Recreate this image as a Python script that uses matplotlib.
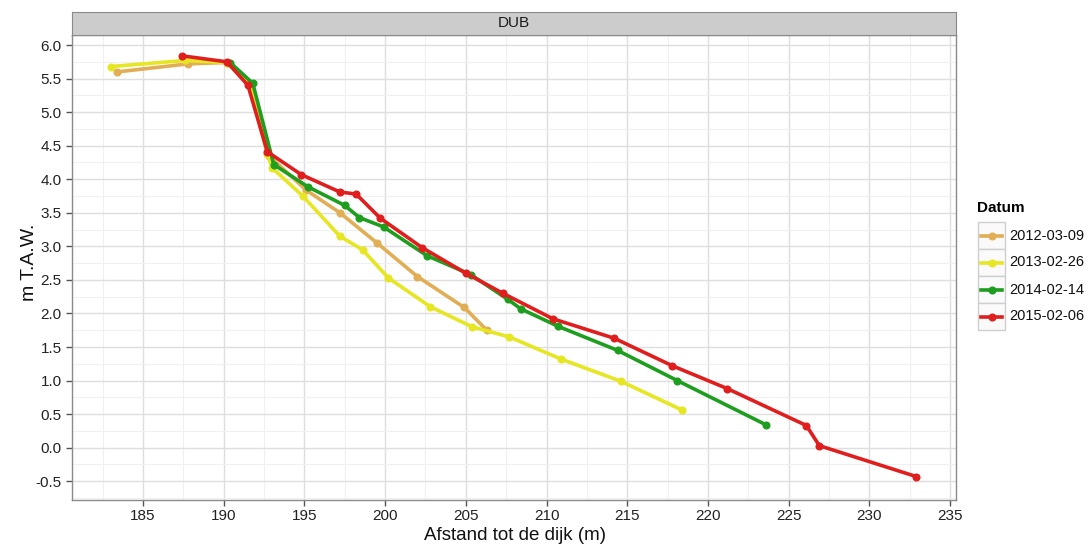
import matplotlib
matplotlib.use('Agg')
import matplotlib.pyplot as plt
from matplotlib.patches import Rectangle
from matplotlib.ticker import MultipleLocator

plt.rcParams['font.family'] = ['Liberation Sans', 'DejaVu Sans']

# data
dates = ['2012-03-09', '2013-02-26', '2014-02-14', '2015-02-06']
colors = ['#E2AE55', '#E6E622', '#1E9E1E', '#E01E1E']

x_2012 = [183.4, 187.8, 190.2, 191.6, 192.8, 195.1, 197.2, 199.5, 202.0, 204.9, 206.3]
y_2012 = [5.60, 5.72, 5.74, 5.40, 4.35, 3.84, 3.50, 3.05, 2.55, 2.09, 1.75]

x_2013 = [183.0, 187.6, 190.2, 191.6, 192.7, 193.0, 194.9, 197.2, 198.6, 200.2, 202.8,
          205.4, 207.7, 210.9, 214.6, 218.4]
y_2013 = [5.68, 5.77, 5.74, 5.40, 4.38, 4.17, 3.75, 3.15, 2.95, 2.53, 2.10,
          1.80, 1.65, 1.32, 0.99, 0.56]

x_2014 = [190.4, 191.8, 193.1, 195.2, 197.5, 198.4, 199.9, 202.6, 205.3, 207.6,
          208.4, 210.7, 214.4, 218.1, 223.6]
y_2014 = [5.74, 5.43, 4.22, 3.89, 3.61, 3.43, 3.29, 2.86, 2.58, 2.21,
          2.07, 1.81, 1.45, 1.00, 0.34]

x_2015 = [187.4, 190.2, 191.5, 192.7, 194.8, 197.2, 198.2, 199.7, 202.3, 205.0,
          207.3, 210.4, 214.2, 217.8, 221.2, 226.1, 226.9, 232.9]
y_2015 = [5.84, 5.75, 5.40, 4.41, 4.07, 3.81, 3.78, 3.42, 2.98, 2.60,
          2.30, 1.92, 1.63, 1.22, 0.88, 0.33, 0.03, -0.43]

xs = [x_2012, x_2013, x_2014, x_2015]
ys = [y_2012, y_2013, y_2014, y_2015]

W, H = 1089, 544
fig = plt.figure(figsize=(W / 100, H / 100), dpi=100)

# panel position in pixels
L, R, T, B = 72, 956, 35, 500
ax = fig.add_axes([L / W, 1 - B / H, (R - L) / W, (B - T) / H])

for x, y, c, lab in zip(xs, ys, colors, dates):
    ax.plot(x, y, color=c, lw=2.6, marker='o', ms=4.8, label=lab,
            solid_joinstyle='round', solid_capstyle='round')

ax.set_xlim(180.6, 235.37)
ax.set_ylim(-0.78, 6.15)
ax.xaxis.set_major_locator(MultipleLocator(5))
ax.xaxis.set_minor_locator(MultipleLocator(2.5))
ax.yaxis.set_major_locator(MultipleLocator(0.5))
ax.yaxis.set_minor_locator(MultipleLocator(0.25))
ax.yaxis.set_major_formatter(matplotlib.ticker.FormatStrFormatter('%.1f'))

ax.grid(which='major', color='#dedede', lw=1.0)
ax.grid(which='minor', color='#f0f0f0', lw=0.8)
ax.set_axisbelow(True)
for s in ax.spines.values():
    s.set_color('#8a8a8a')
    s.set_linewidth(1.0)
ax.tick_params(which='major', length=4, width=1, color='#555555',
               labelsize=11, labelcolor='#222222')
ax.tick_params(axis='x', which='major', pad=2.5)
ax.tick_params(which='minor', length=0)

fig.text(515 / W, 1 - 535 / H, 'Afstand tot de dijk (m)', ha='center', va='center',
         fontsize=13.5, color='#111111')
fig.text(30 / W, 1 - 262 / H, 'm T.A.W.', ha='center', va='center',
         rotation=90, fontsize=14, color='#111111')

# facet strip
sax = fig.add_axes([L / W, 1 - T / H, (R - L) / W, 23.5 / H])
sax.set_facecolor('#cccccc')
sax.set_xticks([])
sax.set_yticks([])
for s in sax.spines.values():
    s.set_color('#8a8a8a')
sax.text(0.5, 0.5, 'DUB', ha='center', va='center', fontsize=11,
         color='#1a1a1a', transform=sax.transAxes)

# legend drawn in pixel coordinates
lax = fig.add_axes([0, 0, 1, 1], facecolor='none')
lax.set_xlim(0, W)
lax.set_ylim(H, 0)
lax.axis('off')
lax.text(977, 208, 'Datum', fontsize=11, fontweight='bold', va='center', ha='left')
for i, (c, lab) in enumerate(zip(colors, dates)):
    top = 222 + i * 27
    lax.add_patch(Rectangle((978, top), 27, 27, facecolor='#fafafa',
                            edgecolor='#cfcfcf', lw=1))
    cy = top + 13.5
    lax.plot([981, 1002], [cy, cy], color=c, lw=2.6)
    lax.plot([991.5], [cy], color=c, marker='o', ms=4.8)
    lax.text(1009, cy, lab, fontsize=10.5, va='center', ha='left', color='#111111')

fig.savefig('out.png', dpi=100)
